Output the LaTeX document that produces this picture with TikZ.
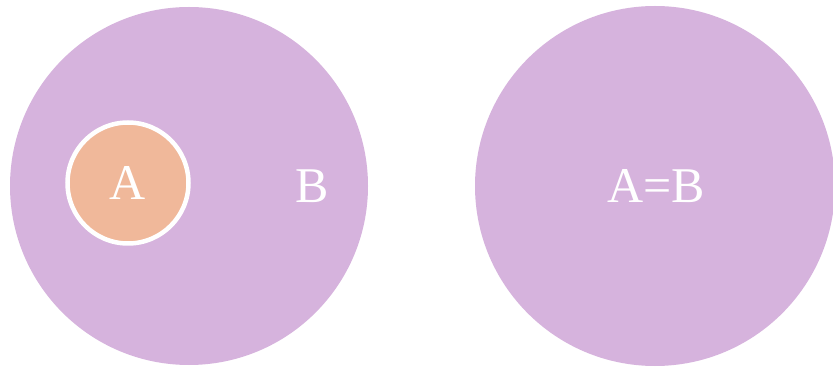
\documentclass[tikz,border=0pt]{standalone}
\usepackage{fontspec}
\setmainfont{Liberation Serif}
\usepackage{tikz}
\definecolor{setpurple}{HTML}{D6B3DD}
\definecolor{setorange}{HTML}{F0B89A}

\begin{document}
\begin{tikzpicture}[x=1pt,y=1pt]
        \tikzset{bigset/.style={circle, fill=setpurple, inner sep=0pt},
                 setlabel/.style={text=white, font=\fontsize{50}{58}\selectfont}}
        \useasboundingbox (0,0) rectangle (833,367);

        % left: A inside B
        \fill[setpurple] (189,181) circle (179);
        \node[circle, fill=setorange, draw=white, line width=4.5pt, minimum size=121pt, inner sep=0pt] (setA) at (128,184) {};
        \node[setlabel] (labA) at (setA.center) {A};
        \node[setlabel] (labB) at (312,181) {B};

        % right: A equals B
        \fill[setpurple] (655,181) circle (180);
        \node[setlabel] (labAB) at (656,181) {A=B};
\end{tikzpicture}
\end{document}
